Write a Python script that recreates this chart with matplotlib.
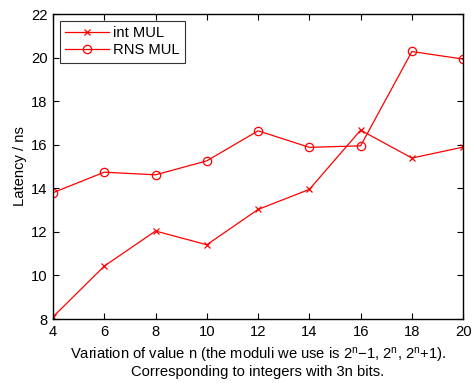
import matplotlib
matplotlib.use("Agg")
import matplotlib.pyplot as plt

plt.rcParams['font.family'] = ['Liberation Sans', 'DejaVu Sans']
plt.rcParams['mathtext.fontset'] = 'custom'
plt.rcParams['mathtext.rm'] = 'Liberation Sans'
plt.rcParams['mathtext.it'] = 'Liberation Sans'
plt.rcParams['mathtext.default'] = 'regular'

n_values = [4, 6, 8, 10, 12, 14, 16, 18, 20]
int_mul = [8.1, 10.43, 12.04, 11.41, 13.03, 13.95, 16.67, 15.39, 15.89]
rns_mul = [13.8, 14.74, 14.62, 15.26, 16.64, 15.88, 15.95, 20.28, 19.93]
x_ticks = [4, 6, 8, 10, 12, 14, 16, 18, 20]
y_ticks = [8, 10, 12, 14, 16, 18, 20, 22]

FS = 10.6

fig = plt.figure(figsize=(4.72, 3.83), dpi=100)
ax = fig.add_axes([0.1123, 0.167, 0.869, 0.7964])

ax.plot(n_values, int_mul, color='red', lw=0.9, marker='x', ms=5, mew=0.9, label='int MUL')
ax.plot(n_values, rns_mul, color='red', lw=0.9, marker='o', ms=6, mfc='none', mew=0.9, label='RNS MUL')

ax.set_xlim(4, 20)
ax.set_ylim(8, 22)
ax.set_xticks(x_ticks)
ax.set_yticks(y_ticks)
ax.tick_params(direction='in', top=True, right=True, labelsize=FS, length=4, width=0.8, pad=4)
for s in ax.spines.values():
    s.set_linewidth(1.0)

ax.set_ylabel('Latency / ns', fontsize=FS, labelpad=3)
ax.set_xlabel('Variation of value n (the moduli we use is 2$^{n}$\u22121, 2$^{n}$, 2$^{n}$+1).\nCorresponding to integers with 3n bits.',
              fontsize=FS, labelpad=5, linespacing=1.05)

leg = ax.legend(loc='upper left', fontsize=FS, frameon=True, fancybox=False,
                edgecolor='black', borderpad=0.35, handlelength=3.0, handletextpad=0.3,
                labelspacing=0.25, borderaxespad=0.45)
leg.get_frame().set_linewidth(0.8)

fig.savefig('out.png', dpi=100)
